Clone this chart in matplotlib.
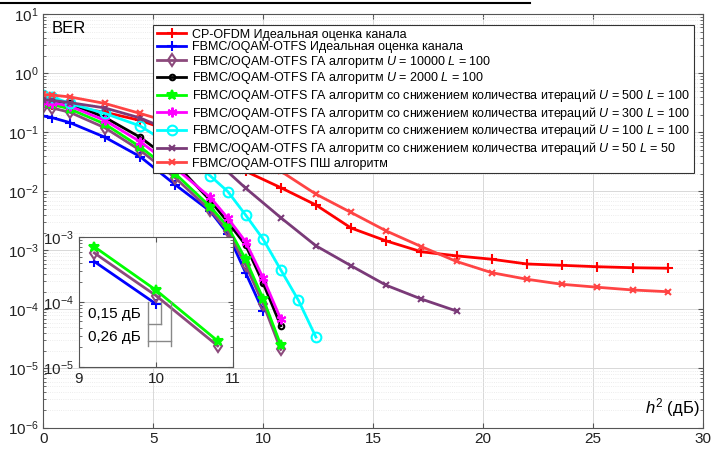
import numpy as np
import matplotlib
matplotlib.use("Agg")
from matplotlib import pyplot as plt
from matplotlib.lines import Line2D

plt.rcParams['font.family'] = ['Liberation Sans', 'DejaVu Sans']
plt.rcParams['mathtext.fontset'] = 'custom'
plt.rcParams['mathtext.rm'] = 'Liberation Sans'
plt.rcParams['mathtext.it'] = 'Liberation Sans:italic'

# SNR grids (dB)
x_long = [0, 0.4, 1.2, 2.8, 4.4, 6.0, 7.6, 9.2, 10.8, 12.4, 14.0, 15.6,
          17.2, 18.8, 20.4, 22.0, 23.6, 25.2, 26.8, 28.4]
x_ga = [0, 0.4, 1.2, 2.8, 4.4, 6.0, 7.6, 8.4, 9.2, 10.0, 10.8]
x_blue = [0, 0.4, 1.2, 2.8, 4.4, 6.0, 7.6, 8.4, 9.2, 10.0]
x_cyan = [0, 0.4, 1.2, 2.8, 4.4, 6.0, 7.6, 8.4, 9.2, 10.0, 10.8, 11.6, 12.4]
x_u50 = [0, 0.4, 1.2, 2.8, 4.4, 6.0, 7.6, 9.2, 10.8, 12.4, 14.0, 15.6, 17.2, 18.8]

# BER values
ber_cp_ofdm = [0.30, 0.29, 0.27, 0.22, 0.16, 0.10, 0.050, 0.022, 0.0116, 5.9e-3,
               2.4e-3, 1.45e-3, 9.5e-4, 8.1e-4, 7.1e-4, 5.9e-4, 5.6e-4, 5.3e-4,
               5.1e-4, 5.0e-4]
ber_ideal = [0.19, 0.178, 0.147, 0.083, 0.039, 0.013, 4.6e-3, 1.9e-3, 4.2e-4, 9.3e-5]
ber_u10000 = [0.27, 0.26, 0.22, 0.12, 0.05, 0.017, 4.8e-3, 2.1e-3, 5.7e-4, 1.25e-4, 2.1e-5]
ber_u2000 = [0.36, 0.35, 0.31, 0.18, 0.083, 0.030, 7.0e-3, 3.0e-3, 1.24e-3, 2.8e-4, 5.3e-5]
ber_u500 = [0.31, 0.30, 0.25, 0.139, 0.057, 0.020, 5.5e-3, 2.5e-3, 7.1e-4, 1.52e-4, 2.5e-5]
ber_u300 = [0.33, 0.32, 0.28, 0.16, 0.07, 0.025, 7.9e-3, 3.5e-3, 1.41e-3, 3.4e-4, 6.9e-5]
ber_u100 = [0.43, 0.40, 0.31, 0.21, 0.129, 0.055, 0.0183, 9.9e-3, 4.0e-3, 1.55e-3,
            4.7e-4, 1.44e-4, 3.4e-5]
ber_u50 = [0.36, 0.35, 0.32, 0.26, 0.176, 0.10, 0.04, 0.0114, 3.6e-3, 1.2e-3,
           5.5e-4, 2.57e-4, 1.5e-4, 9.4e-5]
ber_ps = [0.44, 0.43, 0.40, 0.31, 0.21, 0.14, 0.08, 0.04, 0.022, 9.0e-3, 4.4e-3,
          2.14e-3, 1.16e-3, 6.5e-4, 4.2e-4, 3.25e-4, 2.67e-4, 2.38e-4, 2.14e-4, 2.0e-4]

labels = [
    'CP-OFDM Идеальная оценка канала',
    'FBMC/OQAM-OTFS Идеальная оценка канала',
    'FBMC/OQAM-OTFS ГА алгоритм $U$ = 10000 $L$ = 100',
    'FBMC/OQAM-OTFS ГА алгоритм $U$ = 2000 $L$ = 100',
    'FBMC/OQAM-OTFS ГА алгоритм со снижением количества итераций $U$ = 500 $L$ = 100',
    'FBMC/OQAM-OTFS ГА алгоритм со снижением количества итераций $U$ = 300 $L$ = 100',
    'FBMC/OQAM-OTFS ГА алгоритм со снижением количества итераций $U$ = 100 $L$ = 100',
    'FBMC/OQAM-OTFS ГА алгоритм со снижением количества итераций $U$ = 50 $L$ = 50',
    'FBMC/OQAM-OTFS ПШ алгоритм',
]

series = [
    (x_long, ber_cp_ofdm, '#ff0000', '+', 'none', 7),
    (x_blue, ber_ideal, '#0000ff', '+', 'none', 7),
    (x_ga, ber_u10000, '#8c4a7c', 'd', 'none', 6),
    (x_ga, ber_u2000, '#000000', 'o', 'none', 4),
    (x_ga, ber_u500, '#00ff00', '*', '#00ff00', 7),
    (x_ga, ber_u300, '#ff00ff', (6, 2, 0), 'none', 7),
    (x_cyan, ber_u100, '#00ffff', 'o', 'none', 7),
    (x_u50, ber_u50, '#7a3a78', 'x', 'none', 5),
    (x_long, ber_ps, '#ff4444', 'x', 'none', 5),
]
inset_series = [1, 2, 4]   # ideal, U=10000, U=500

fig = plt.figure(figsize=(7.24, 4.5), dpi=100)
ax = fig.add_axes([0.0598, 0.05, 0.911, 0.918])

for (xs, ys, c, m, mfc, ms), lab in zip(series, labels):
    ax.plot(xs, ys, color=c, marker=m, markerfacecolor=mfc, markersize=ms,
            markeredgewidth=1.5, linewidth=2, label=lab)

ax.set_yscale('log')
ax.set_xlim(0, 30)
ax.set_ylim(1e-6, 10)
ax.set_xticks(np.arange(0, 31, 5))
ax.set_yticks([10.0 ** k for k in range(-6, 2)])
ax.grid(True, which='major', color='#d8d8d8', linewidth=0.7)
ax.grid(True, which='minor', axis='y', color='#e6e6e6', linewidth=0.6, linestyle=':')
ax.tick_params(which='both', direction='in', top=True, right=True, colors='#555555',
               labelcolor='#222222', labelsize=11)
for s in ax.spines.values():
    s.set_color('#555555')

ax.text(0.013, 0.985, 'BER', transform=ax.transAxes, fontsize=12, va='top', ha='left')
ax.text(0.995, 0.02, '$h^2$ (дБ)', transform=ax.transAxes, fontsize=12,
        va='bottom', ha='right')

leg = ax.legend(loc='upper right', bbox_to_anchor=(0.9955, 0.99), fontsize=9,
                handlelength=2.3, handletextpad=0.5, labelspacing=0.05,
                borderpad=0.3, fancybox=False, framealpha=1, edgecolor='#333333')
leg.get_frame().set_linewidth(0.8)

# zoomed inset (only points inside the 9..11 window)
axin = fig.add_axes([0.109, 0.185, 0.213, 0.288])
for i in inset_series:
    xs, ys, c, m, mfc, ms = series[i]
    xi = [x for x in xs if x >= 9]
    yi = ys[len(xs) - len(xi):]
    axin.plot(xi, yi, color=c, marker=m, markerfacecolor=mfc, markersize=ms,
              markeredgewidth=1.5, linewidth=2)
axin.set_yscale('log')
axin.set_xlim(9, 11)
axin.set_ylim(1e-5, 1e-3)
axin.set_xticks([9, 10, 11])
axin.set_yticks([1e-5, 1e-4, 1e-3])
axin.grid(True, which='major', color='#d8d8d8', linewidth=0.7)
axin.tick_params(which='both', direction='in', top=True, right=True, colors='#555555',
                 labelcolor='#222222', labelsize=11)
for s in axin.spines.values():
    s.set_color('#555555')

# dB gap brackets
gc = '#888888'
axin.plot([9.9, 9.9], [1e-4, 2.1e-5], color=gc, lw=1)
axin.plot([10.07, 10.07], [1e-4, 4.5e-5], color=gc, lw=1)
axin.plot([10.2, 10.2], [1e-4, 2.1e-5], color=gc, lw=1)
axin.plot([9.9, 10.07], [4.5e-5, 4.5e-5], color=gc, lw=1)
axin.plot([9.9, 10.2], [2.5e-5, 2.5e-5], color=gc, lw=1)
axin.text(9.12, 6.6e-5, '0,15 дБ', fontsize=11, va='center')
axin.text(9.12, 2.9e-5, '0,26 дБ', fontsize=11, va='center')

fig.add_artist(Line2D([0, 0.732], [0.994, 0.994], color='black', lw=1.5))

fig.savefig('out.png', dpi=100)
